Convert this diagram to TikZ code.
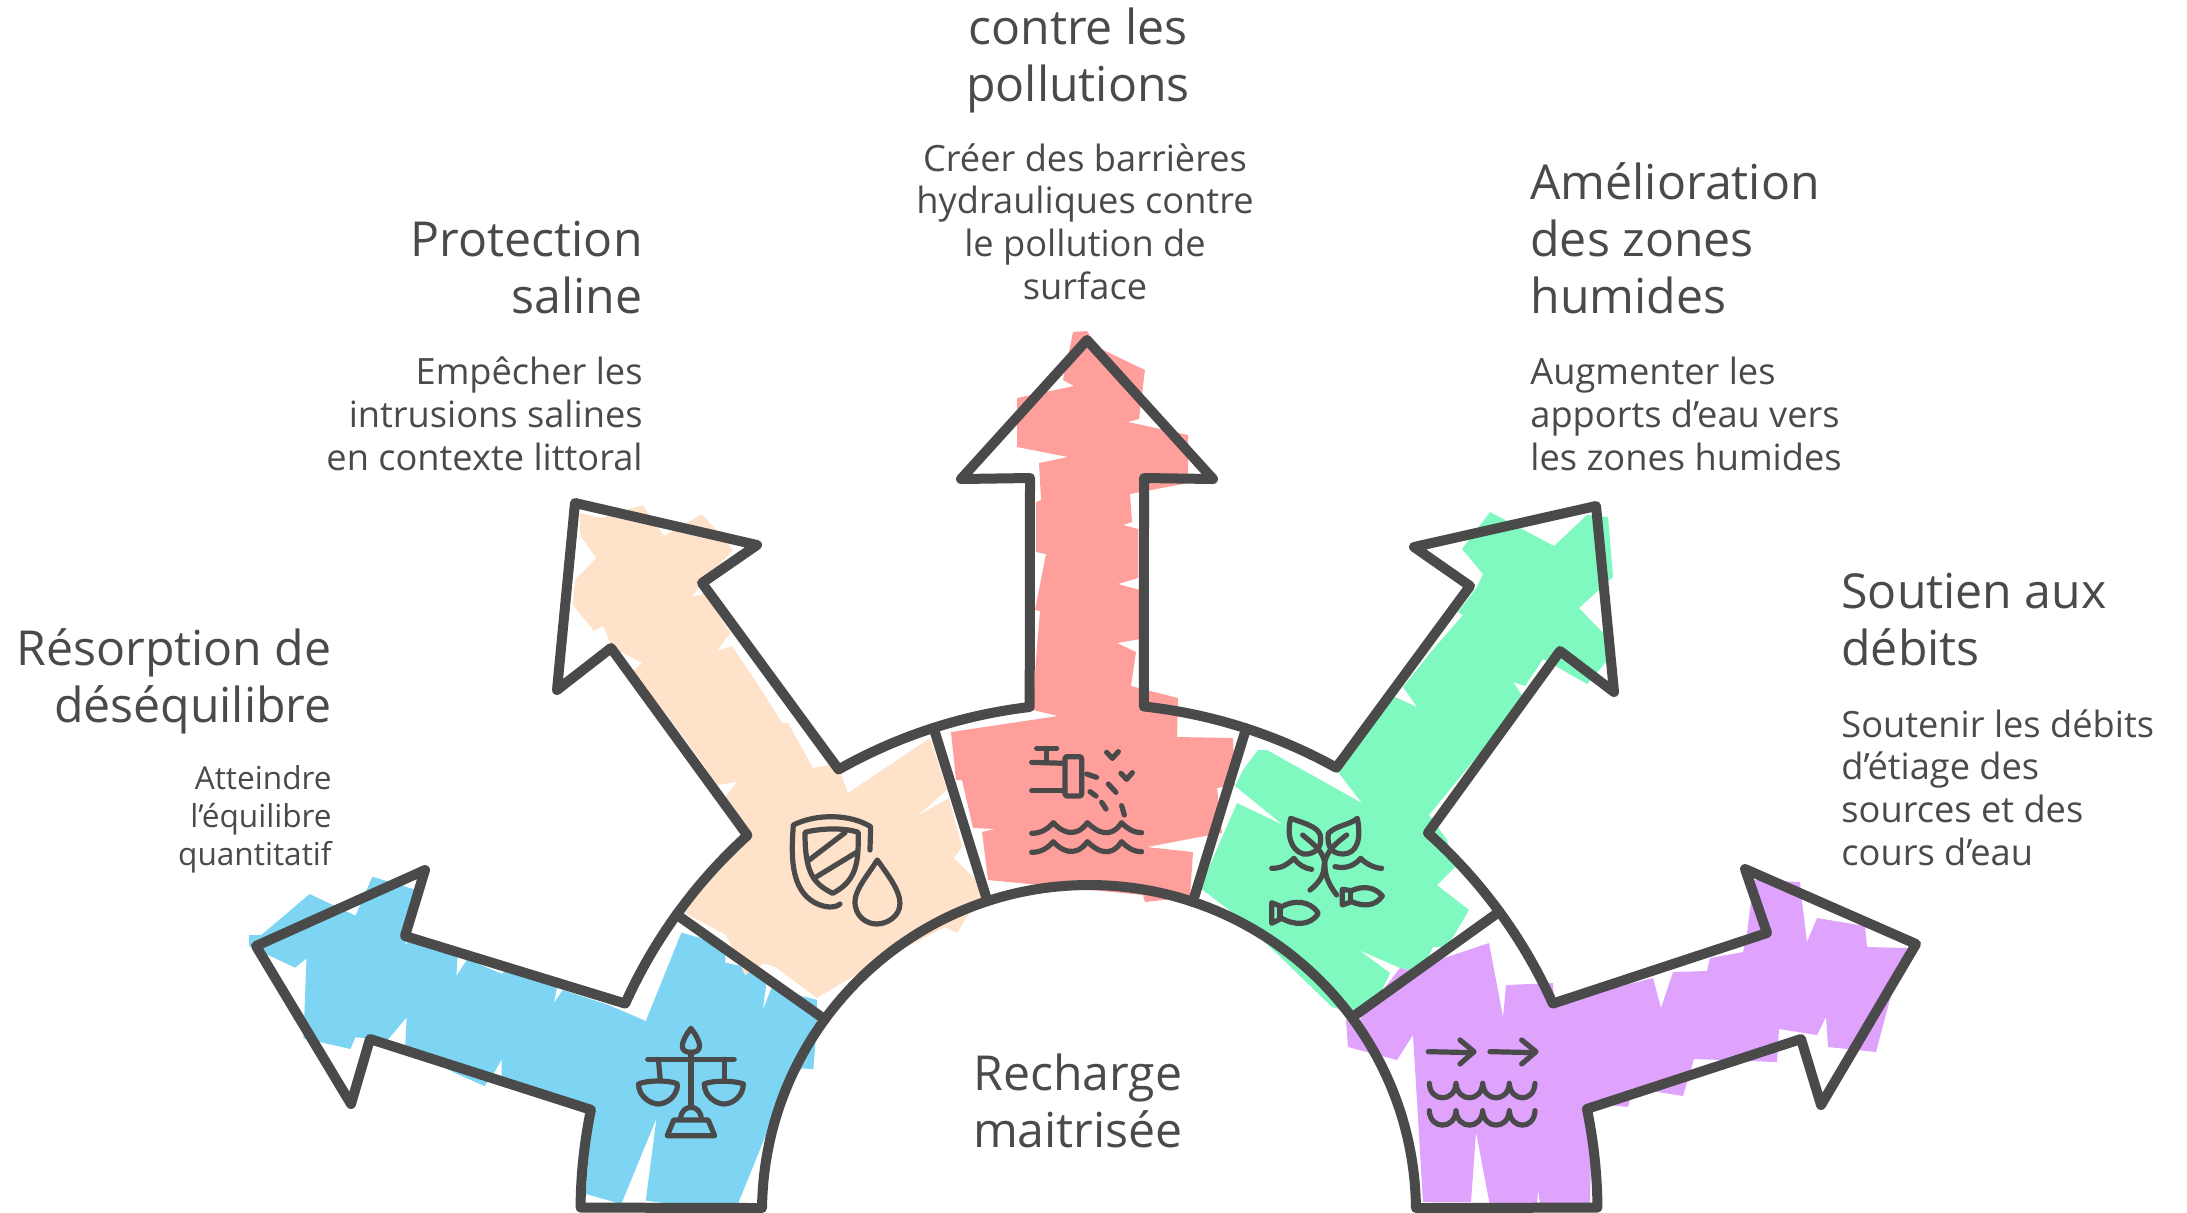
\documentclass[tikz,border=0pt]{standalone}
\usepackage{fontspec}
\setmainfont{Open Sans}
\definecolor{ink}{HTML}{4A4A4A}
\definecolor{cblue}{HTML}{7DD5F3}
\definecolor{cpeach}{HTML}{FFE2CA}
\definecolor{cred}{HTML}{FF9F9C}
\definecolor{cgreen}{HTML}{7FF9BF}
\definecolor{cpurple}{HTML}{DFA3FE}
\tikzset{
  outline/.style={draw=ink,line width=5pt,line join=round,line cap=round},
  icon/.style={draw=ink,line width=2.6pt,line join=round,line cap=round},
  titletext/.style={text=ink,inner sep=0pt,font=\fontsize{24.1pt}{28.4pt}\selectfont},
  bodytext/.style={text=ink,inner sep=0pt,font=\fontsize{18.1pt}{21.3pt}\selectfont},
  smalltext/.style={text=ink,inner sep=0pt,font=\fontsize{15.8pt}{19pt}\selectfont},
}
\newcommand{\waverow}[1]{%
  \draw[icon,shift={(0,#1)}] (305,400) .. controls (335,400) and (355,385) .. (370,368)
    .. controls (390,392) and (435,420) .. (472,368)
    .. controls (500,395) and (540,420) .. (575,368)
    .. controls (590,385) and (610,398) .. (635,398);}
\newcommand{\scallops}[1]{%
  \draw[icon,shift={(0,#1)}] (688,1000) .. controls (690,1058) and (765,1058) .. (768,1000)
    .. controls (772,1058) and (845,1058) .. (848,1000)
    .. controls (852,1058) and (925,1058) .. (928,1000)
    .. controls (932,1058) and (1003,1058) .. (1005,1000);}
\begin{document}
\begin{tikzpicture}[x=0.5pt,y=-0.5pt]
\useasboundingbox (0,0) rectangle (2187,1212);
\coordinate (c) at (1089,1212);
% outer arc points
\foreach \n/\a in {a/179.5,b/168.4,d/155.8,e/144.2,f/132.2,g/119.5,h/107.8,i/96.7,j/83.8,k/72.0,l/60.9,m/48.2,n/36.2,o/24.2,p/11.7,q/0.5}
  \coordinate (o\n) at ([shift={(\a:254.25pt)}]c);
\foreach \n/\a in {a/179.3,e/143.9,h/108.1,k/71.5,n/36.5,q/0.7}
  \coordinate (r\n) at ([shift={(\a:163.5pt)}]c);
% fills
\fill[cblue,shift={(230,850)},xscale=0.3825,yscale=0.3333]
 (50,255)--(82,255)--(208,132)--(328,197)--(372,80)--(482,118)--(458,285)--(475,262)--(595,312)--(592,378)--(620,328)--(712,372)--(718,360)--(855,412)--(847,458)--(870,420)--(990,465)--(1087,513)--(1180,248)--(1295,285)--(1295,338)--(1345,350)--(1402,402)--(1393,480)--(1415,415)--(1535,450)--(1535,515)--(1525,658)--(1495,655)--(1445,730)--(1325,1070)--(1210,1070)--(1087,1052)--(1115,805)--(1023,1062)--(930,1032)--(945,785)--(710,690)--(710,628)--(685,680)--(665,708)--(590,670)--(458,590)--(462,502)--(412,570)--(328,562)--(315,597)--(192,565)--(200,325)--(170,353)--(105,318)--(50,288)--cycle;
\fill[cpeach] (580,513)--(601,518)--(643,505)--(664,536)--(702,514)--(733,550)--(700,585)--(692,597)--(705,593)--(730,633)--(717,651)--(732,646)--(757,683)--(782,723)--(788,723)--(813,768)--(837,763)--(848,793)--(930,738)--(947,790)--(917,816)--(949,798)--(962,847)--(954,858)--(978,882)--(982,900)--(968,915)--(957,933)--(945,927)--(867,968)--(817,998)--(775,967)--(763,963)--(807,937)--(745,975)--(726,935)--(683,912)--(750,835)--(725,797)--(737,782)--(717,785)--(698,757)--(667,715)--(632,672)--(642,663)--(612,647)--(603,626)--(594,631)--(573,605)--(575,580)--(596,558)--(580,535)--cycle;
\fill[cred] (1073,332)--(1087,331)--(1097,347)--(1145,370)--(1139,419)--(1128,422)--(1188,435)--(1188,483)--(1130,494)--(1132,522)--(1123,525)--(1138,529)--(1138,578)--(1118,584)--(1140,590)--(1140,639)--(1117,643)--(1136,652)--(1131,686)--(1178,698)--(1177,737)--(1233,738)--(1235,785)--(1217,788)--(1222,833)--(1205,836)--(1147,847)--(1193,852)--(1190,897)--(1145,902)--(1143,895)--(1040,885)--(988,880)--(982,832)--(995,829)--(973,828)--(962,780)--(970,780)--(956,780)--(951,732)--(1058,716)--(1033,710)--(1036,658)--(1040,611)--(1035,610)--(1046,554)--(1036,552)--(1036,502)--(1041,500)--(1039,463)--(1068,457)--(1017,447)--(1017,398)--(1074,386)--(1063,380)--cycle;
\fill[cgreen] (1608,517)--(1613,577)--(1579,608)--(1605,635)--(1606,662)--(1587,684)--(1543,659)--(1525,686)--(1513,682)--(1523,697)--(1493,737)--(1429,815)--(1447,840)--(1455,867)--(1437,885)--(1469,910)--(1447,947)--(1433,947)--(1427,960)--(1410,970)--(1400,968)--(1359,950)--(1390,973)--(1382,990)--(1353,1013)--(1332,1007)--(1240,918)--(1200,888)--(1237,803)--(1283,825)--(1235,786)--(1243,770)--(1258,750)--(1267,750)--(1362,803)--(1338,772)--(1335,760)--(1395,697)--(1417,707)--(1403,687)--(1435,647)--(1463,615)--(1458,612)--(1477,587)--(1483,574)--(1462,549)--(1490,512)--(1554,546)--(1587,515)--cycle;
\fill[cpurple] (1358,1022)--(1400,968)--(1408,970)--(1489,943)--(1503,1017)--(1506,985)--(1553,983)--(1554,1003)--(1653,978)--(1661,1008)--(1673,972)--(1707,971)--(1710,958)--(1743,952)--(1747,933)--(1752,893)--(1753,880)--(1800,882)--(1802,902)--(1807,942)--(1817,918)--(1865,926)--(1867,947)--(1907,948)--(1893,988)--(1876,1052)--(1828,1047)--(1826,1017)--(1817,1035)--(1779,1029)--(1777,1062)--(1694,1059)--(1683,1096)--(1633,1088)--(1628,1107)--(1590,1103)--(1592,1108)--(1590,1205)--(1540,1203)--(1538,1190)--(1537,1204)--(1490,1206)--(1476,1132)--(1471,1202)--(1423,1202)--(1413,1035)--(1397,1060)--(1348,1047)--(1346,1020)--cycle;
% outlines
\draw[outline]
  (oa) arc[start angle=179.5,end angle=168.4,radius=254.25pt]
  -- (370,1039) -- (351,1104) -- (256,946) -- (425,870) -- (405,936) -- (od)
  arc[start angle=155.8,end angle=132.2,radius=254.25pt]
  -- (611,648) -- (557,690) -- (575,503) -- (757,545) -- (702,583) -- (og)
  arc[start angle=119.5,end angle=96.7,radius=254.25pt]
  -- (1030,478) -- (961,479) -- (1087,340) -- (1213,479) -- (1144,478) -- (oj)
  arc[start angle=83.8,end angle=60.9,radius=254.25pt]
  -- (1470,586) -- (1414,547) -- (1596,506) -- (1614,692) -- (1560,651) -- (om)
  arc[start angle=48.2,end angle=24.2,radius=254.25pt]
  -- (1767,933) -- (1745,869) -- (1916,944) -- (1821,1105) -- (1801,1039) -- (op)
  arc[start angle=11.7,end angle=0.5,radius=254.25pt]
  -- (rq)
  arc[start angle=0.7,end angle=179.3,radius=163.5pt]
  -- cycle;
\draw[outline] (oe) -- (re);
\draw[outline] (oh) -- (rh);
\draw[outline] (ok) -- (rk);
\draw[outline] (on) -- (rn);
% balance icon
\begin{scope}[shift={(230,850)},xscale=0.3825,yscale=0.3333]
\draw[icon] (1205,535) .. controls (1175,580) and (1175,607) .. (1205,607) .. controls (1235,607) and (1235,580) .. (1205,535) -- cycle;
\draw[icon] (1092,628) -- (1318,628);
\draw[icon] (1205,607) -- (1205,772);
\draw[icon] (1120,628) -- (1125,692);
\draw[icon] (1292,628) -- (1292,692);
\draw[icon] (1068,702) .. controls (1090,690) and (1150,690) .. (1170,702) .. controls (1170,740) and (1140,762) .. (1120,762) .. controls (1100,762) and (1068,740) .. (1068,702) -- cycle;
\draw[icon] (1240,702) .. controls (1262,690) and (1322,692) .. (1342,702) .. controls (1342,740) and (1312,762) .. (1292,762) .. controls (1272,762) and (1240,740) .. (1240,702) -- cycle;
\draw[icon] (1178,808) .. controls (1178,760) and (1232,760) .. (1232,808);
\draw[icon] (1160,810) -- (1250,810) -- (1267,857) -- (1143,857) -- cycle;
\end{scope}
% shield icon
\begin{scope}[shift={(550,700)},scale=0.3333]
\draw[icon] (960,450) -- (962,380) .. controls (900,342) and (800,340) .. (730,375) .. controls (725,450) and (720,540) .. (770,590) .. controls (800,620) and (850,630) .. (870,612);
\draw[icon] (765,397) .. controls (810,385) and (880,382) .. (925,397) .. controls (925,480) and (925,540) .. (848,580) .. controls (790,550) and (765,520) .. (765,397) -- cycle;
\draw[icon] (775,482) -- (885,398);
\draw[icon] (800,530) -- (918,458);
\draw[icon] (982,480) .. controls (1010,520) and (1050,570) .. (1050,610) .. controls (1050,650) and (1010,672) .. (980,672) .. controls (950,672) and (915,650) .. (915,605) .. controls (915,570) and (950,530) .. (982,480) -- cycle;
\end{scope}
% tap icon
\begin{scope}[shift={(930,700)},scale=0.3333]
\draw[icon] (320,145) -- (380,145);
\draw[icon] (350,145) -- (350,187);
\draw[icon] (305,187) -- (405,190);
\draw[icon] (305,272) -- (405,272);
\draw[icon,rounded corners=1pt] (405,170) rectangle (455,288);
\draw[icon] (470,222) -- (500,232);
\draw[icon] (535,252) -- (558,277);
\draw[icon] (480,275) -- (498,288);
\draw[icon] (515,307) -- (528,327);
\draw[icon] (575,317) -- (583,345);
\draw[icon] (530,157) -- (547,175) -- (565,155);
\draw[icon] (573,220) -- (590,238) -- (607,218);
\waverow{0}
\waverow{57}
\end{scope}
% plant icon
\begin{scope}[shift={(1200,750)},scale=0.3333]
\draw[icon] (272,205) .. controls (330,225) and (365,235) .. (362,270) .. controls (362,300) and (335,315) .. (310,312) .. controls (270,300) and (260,250) .. (272,205) -- cycle;
\draw[icon] (472,205) .. controls (485,270) and (470,310) .. (430,312) .. controls (395,312) and (380,290) .. (385,250) .. controls (410,225) and (450,225) .. (472,205) -- cycle;
\draw[icon] (308,255) .. controls (350,290) and (375,310) .. (375,350) .. controls (375,385) and (395,415) .. (410,435);
\draw[icon] (440,255) .. controls (400,285) and (375,310) .. (372,350) .. controls (372,380) and (350,405) .. (330,420);
\draw[icon] (215,355) .. controls (250,355) and (265,340) .. (282,325) .. controls (295,345) and (315,355) .. (335,358);
\draw[icon] (405,350) .. controls (440,358) and (465,345) .. (482,325) .. controls (495,340) and (525,355) .. (545,355);
\draw[icon] (355,490) .. controls (330,450) and (280,450) .. (245,470) -- (215,458) -- (215,520) -- (245,505) .. controls (280,525) and (330,530) .. (355,490) -- cycle;
\draw[icon] (240,470) -- (240,505);
\draw[icon] (547,438) .. controls (520,405) and (480,410) .. (455,422) -- (427,418) -- (427,465) -- (455,455) .. controls (490,470) and (525,470) .. (547,438) -- cycle;
\draw[icon] (452,422) -- (452,455);
\end{scope}
% flow icon
\begin{scope}[shift={(1200,750)},scale=0.3333]
\draw[icon] (685,905) -- (820,908);
\draw[icon] (780,870) -- (822,905) -- (780,942);
\draw[icon] (870,905) -- (1005,908);
\draw[icon] (965,870) -- (1008,905) -- (965,942);
\scallops{0}
\scallops{82}
\end{scope}
% texts
\node[titletext,align=right,anchor=base east] (t1) at (332,722) {Résorption de\\déséquilibre};
\node[smalltext,align=right,anchor=base east] (b1) at (332,865) {Atteindre\\l'équilibre\\quantitatif};
\node[titletext,align=right,anchor=base east] (t2) at (643,313) {Protection\\saline};
\node[bodytext,align=right,anchor=base east] (b2) at (643,470) {Empêcher les\\intrusions salines\\en contexte littoral};
\node[titletext,align=center,anchor=base] (t3) at (1078,101) {contre les\\pollutions};
\node[bodytext,align=center,anchor=base] (b3) at (1085,299) {Créer des barrières\\hydrauliques contre\\le pollution de\\surface};
\node[titletext,align=left,anchor=base west] (t4) at (1530,313) {Amélioration\\des zones\\humides};
\node[bodytext,align=left,anchor=base west] (b4) at (1530,470) {Augmenter les\\apports d'eau vers\\les zones humides};
\node[titletext,align=left,anchor=base west] (t5) at (1841,665) {Soutien aux\\débits};
\node[bodytext,align=left,anchor=base west] (b5) at (1841,865) {Soutenir les débits\\d'étiage des\\sources et des\\cours d'eau};
\node[titletext,align=center,anchor=base] (t6) at (1078,1147) {Recharge\\maitrisée};
\end{tikzpicture}
\end{document}
